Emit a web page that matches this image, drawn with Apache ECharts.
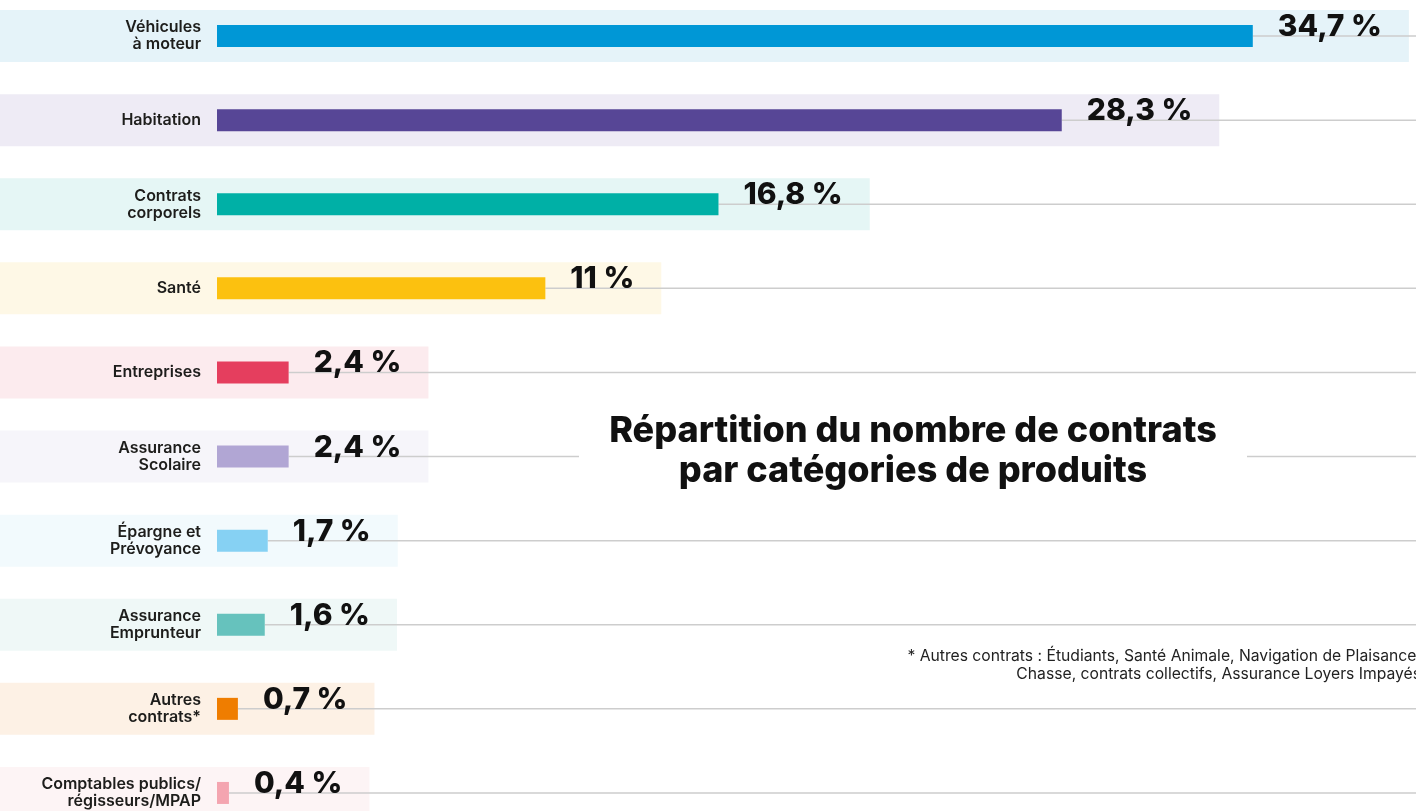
<!DOCTYPE html>
<html>
<head>
<meta charset="utf-8">
<script src="https://cdn.jsdelivr.net/npm/echarts@6/dist/echarts.min.js"></script>
<style>
html,body{margin:0;padding:0;background:#fff;}
#chart{width:1416px;height:811px;}
</style>
</head>
<body>
<div id="chart"></div>
<script>
var categories = ["Véhicules\nà moteur", "Habitation", "Contrats\ncorporels", "Santé", "Entreprises",
  "Assurance\nScolaire", "Épargne et\nPrévoyance", "Assurance\nEmprunteur", "Autres\ncontrats*",
  "Comptables publics/\nrégisseurs/MPAP"];
var values = [34.7, 28.3, 16.8, 11, 2.4, 2.4, 1.7, 1.6, 0.7, 0.4];
var barColors = ["#0097d6", "#574696", "#00b0a6", "#fcc10f", "#e53e5e", "#b1a6d4", "#86d1f3", "#66c2bd", "#ef7d00", "#f4a5b0"];
var bandColors = ["#e5f3f9", "#eeebf5", "#e5f6f5", "#fef8e6", "#fcebee", "#f6f5fa", "#f2fafd", "#eff8f7", "#fdf1e5", "#fdf4f5"];
var titleLines = ["Répartition du nombre de contrats", "par catégories de produits"];
var footnoteLines = ["* Autres contrats : Étudiants, Santé Animale, Navigation de Plaisance,", "Chasse, contrats collectifs, Assurance Loyers Impayés"];

var VALUE_FONT = "800 30px Inter";
function fmt(v){ return String(v).replace('.', ',') + ' %'; }
var mctx = document.createElement('canvas').getContext('2d');
function measure(t){ mctx.font = VALUE_FONT; return mctx.measureText(t).width; }

var chart = echarts.init(document.getElementById('chart'), null, {renderer:'canvas'});
var pairData = values.map(function(v, i){ return [v, i]; });

var option = {
  animation: false,
  backgroundColor: '#ffffff',
  grid: {left: 217, width: 1194, top: -6, height: 841, containLabel: false, outerBoundsMode: 'none'},
  xAxis: {type: 'value', min: 0, max: 40, show: false},
  yAxis: {
    type: 'category', data: categories, inverse: true, z: 50,
    axisLine: {show: false}, axisTick: {show: false}, splitLine: {show: false},
    axisLabel: {margin: 16, interval: 0, fontFamily: 'Inter', fontWeight: 600, fontSize: 16, lineHeight: 17, color: '#1d1d1b', align: 'right'}
  },
  series: [
    {
      type: 'custom', z: 1, silent: true, clip: false,
      encode: {x: 0, y: 1},
      data: pairData,
      renderItem: function(params, api){
        var v = api.value(0), idx = api.value(1);
        var p = api.coord([v, idx]);
        var h = 52;
        var w = p[0] + 25 + measure(fmt(v)) + 27;
        return {type: 'rect', shape: {x: 0, y: p[1] - h/2, width: w, height: h}, style: {fill: bandColors[idx]}};
      }
    },
    {
      type: 'custom', z: 2, silent: true, clip: false,
      encode: {x: 0, y: 1},
      data: pairData,
      renderItem: function(params, api){
        var v = api.value(0), idx = api.value(1);
        var p = api.coord([v, idx]);
        return {type: 'line', shape: {x1: p[0], y1: p[1], x2: api.getWidth(), y2: p[1]}, style: {stroke: '#cdcdcd', lineWidth: 1.5}};
      }
    },
    {
      type: 'bar', z: 3, barWidth: 22,
      data: values.map(function(v, i){ return {value: v, itemStyle: {color: barColors[i]}}; }),
      label: {
        show: true, position: 'right', distance: 25, offset: [0, -9],
        formatter: function(p){ return fmt(p.value); },
        fontFamily: 'Inter', fontWeight: 800, fontSize: 30, color: '#111111'
      }
    }
  ],
  graphic: [
    {type: 'rect', z: 100, shape: {x: 579, y: 405, width: 668, height: 90}, style: {fill: '#ffffff'}},
    {type: 'text', z: 101, style: {text: titleLines.join('\n'), x: 913, y: 451, textAlign: 'center', textVerticalAlign: 'middle',
      font: '800 36px Inter', lineHeight: 40, fill: '#111111'}},
    {type: 'text', z: 101, style: {text: footnoteLines.join('\n'), x: 1421, y: 647, textAlign: 'right', textVerticalAlign: 'top',
      font: '15.7px Inter', lineHeight: 18, fill: '#222222'}}
  ]
};
chart.setOption(option);
</script>
</body>
</html>
